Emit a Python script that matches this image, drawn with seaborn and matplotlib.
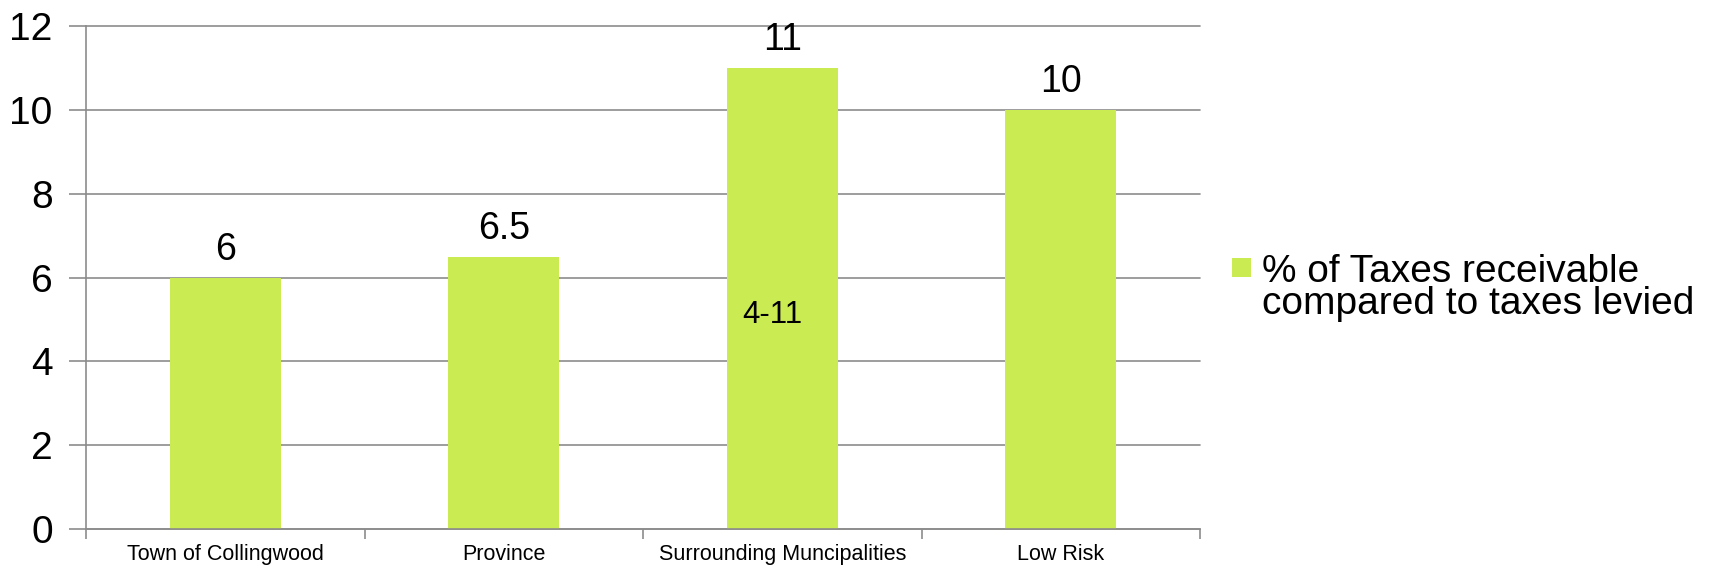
import matplotlib
matplotlib.use("Agg")
import matplotlib.pyplot as plt
import matplotlib.patches as mpatches
from matplotlib.legend_handler import HandlerPatch
import seaborn as sns
import pandas as pd

categories = ["Town of Collingwood", "Province", "Surrounding Muncipalities", "Low Risk"]
values = [6, 6.5, 11, 10]
series_label = "% of Taxes receivable\ncompared to taxes levied"
range_note = "4-11"
y_ticks = [0, 2, 4, 6, 8, 10, 12]

BAR = "#CBEB52"
GRAY = "#8C8C8C"

sns.set_theme(style="white")
plt.rcParams["font.family"] = ["Liberation Sans", "DejaVu Sans"]
plt.rcParams["text.color"] = "black"

fig = plt.figure(figsize=(17.1, 5.71), dpi=100)
ax = fig.add_axes([86 / 1710, 1 - 529 / 571, (1200 - 86) / 1710, (529 - 26) / 571])

df = pd.DataFrame({"category": categories, "value": values})
sns.barplot(data=df, x="category", y="value", color=BAR, saturation=1,
            width=0.4, ax=ax, errorbar=None, linewidth=0, edgecolor="none")

ax.set_xlim(-0.5, len(categories) - 0.5)
ax.set_ylim(0, 12)
ax.set_yticks(y_ticks)
ax.set_xlabel("")
ax.set_ylabel("")

# gridlines behind bars
ax.set_axisbelow(True)
ax.yaxis.grid(True, color=GRAY, linewidth=1.2)
for gl in ax.get_ygridlines():
    gl.set_clip_on(False)

for side in ["top", "right"]:
    ax.spines[side].set_visible(False)
for side in ["left", "bottom"]:
    ax.spines[side].set_color(GRAY)
    ax.spines[side].set_linewidth(1.2)

ax.tick_params(axis="y", which="major", direction="out", length=12, width=1.2,
               color=GRAY, labelsize=28, pad=12, left=True, labelcolor="black")
ax.tick_params(axis="x", which="major", length=0, labelsize=15.5, pad=11,
               labelcolor="black")
# category boundary ticks on the x axis
ax.set_xticks([i - 0.5 for i in range(len(categories) + 1)], minor=True)
ax.tick_params(axis="x", which="minor", direction="out", length=7, width=1.2,
               color=GRAY, bottom=True)

# value labels above bars
ax.bar_label(ax.containers[0], labels=[f"{v:g}" for v in values],
             padding=7, fontsize=27, color="black")

# range note inside the surrounding municipalities bar
ax.text(2 - 0.035, 5.1, range_note, ha="center", va="center", fontsize=22.5,
        color="black")


class RaisedSquare(HandlerPatch):
    def __init__(self, lift):
        super().__init__()
        self.lift = lift

    def create_artists(self, legend, orig_handle, xdescent, ydescent, width,
                       height, fontsize, trans):
        size = min(width, height)
        p = mpatches.Rectangle((-xdescent, -ydescent + self.lift), size, size,
                               facecolor=orig_handle.get_facecolor(),
                               edgecolor="none", transform=trans)
        return [p]


handle = mpatches.Patch(facecolor=BAR, edgecolor="none", label=series_label)
leg = fig.legend(handles=[handle], loc="center left",
                 bbox_to_anchor=(1232 / 1710, 1 - 288 / 571),
                 frameon=False, fontsize=28, borderpad=0, borderaxespad=0,
                 handlelength=0.49, handleheight=0.49, handletextpad=0.27,
                 handler_map={mpatches.Patch: RaisedSquare(16)})
for t in leg.get_texts():
    t.set_linespacing(0.85)
    t.set_color("black")

fig.savefig("out.png", dpi=100)
